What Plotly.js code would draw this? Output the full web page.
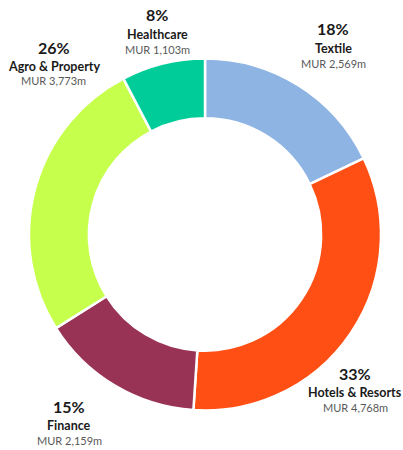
<!DOCTYPE html>
<html>
<head>
<meta charset="utf-8">
<script src="https://cdn.plot.ly/plotly-3.0.1.min.js"></script>
<style>html,body{margin:0;padding:0;background:#fff;}#chart{width:403px;height:450px;}</style>
</head>
<body>
<div id="chart"></div>
<script>
const categories = ["Textile", "Hotels & Resorts", "Finance", "Agro & Property", "Healthcare"];
const values = [2569, 4768, 2159, 3773, 1103];
const valueLabels = ["MUR 2,569m", "MUR 4,768m", "MUR 2,159m", "MUR 3,773m", "MUR 1,103m"];
const colors = ["#8EB4E3", "#FF4F15", "#993355", "#C6FF4C", "#00CC99"];
// label anchor positions in pixels (x centre, y of percent line)
const labelPos = [[333, 29], [355, 373], [69, 406], [54, 47], [157, 15]];

const W = 403, H = 450;
const total = values.reduce((a, b) => a + b, 0);
const annotations = [];
const font = "Lato, 'Open Sans', sans-serif";
categories.forEach((c, i) => {
  const [px, py] = labelPos[i];
  const pct = Math.round(values[i] / total * 100) + "%";
  const lines = [
    {t: "<b>" + pct + "</b>", dy: 0, size: 16, color: "#1a1a1a"},
    {t: "<b>" + c + "</b>", dy: 19, size: 12.5, color: "#1a1a1a"},
    {t: valueLabels[i], dy: 34, size: 11, color: "#595959"}
  ];
  lines.forEach(l => {
    annotations.push({
      text: l.t, xref: "paper", yref: "paper",
      x: px / W, y: 1 - (py + l.dy) / H,
      xanchor: "center", yanchor: "middle", showarrow: false,
      font: {family: font, size: l.size, color: l.color}
    });
  });
});

const cx = 205, cy = 234.5, r = 176;
Plotly.newPlot("chart", [{
  type: "pie",
  labels: categories,
  values: values,
  sort: false,
  direction: "clockwise",
  rotation: 0,
  hole: 0.66,
  textinfo: "none",
  marker: {colors: colors, line: {color: "#ffffff", width: 2.5}},
  domain: {x: [(cx - r) / W, (cx + r) / W], y: [1 - (cy + r) / H, 1 - (cy - r) / H]}
}], {
  width: W, height: H,
  margin: {l: 0, r: 0, t: 0, b: 0},
  showlegend: false,
  paper_bgcolor: "#ffffff",
  annotations: annotations
}, {displayModeBar: false, staticPlot: true});
</script>
</body>
</html>
